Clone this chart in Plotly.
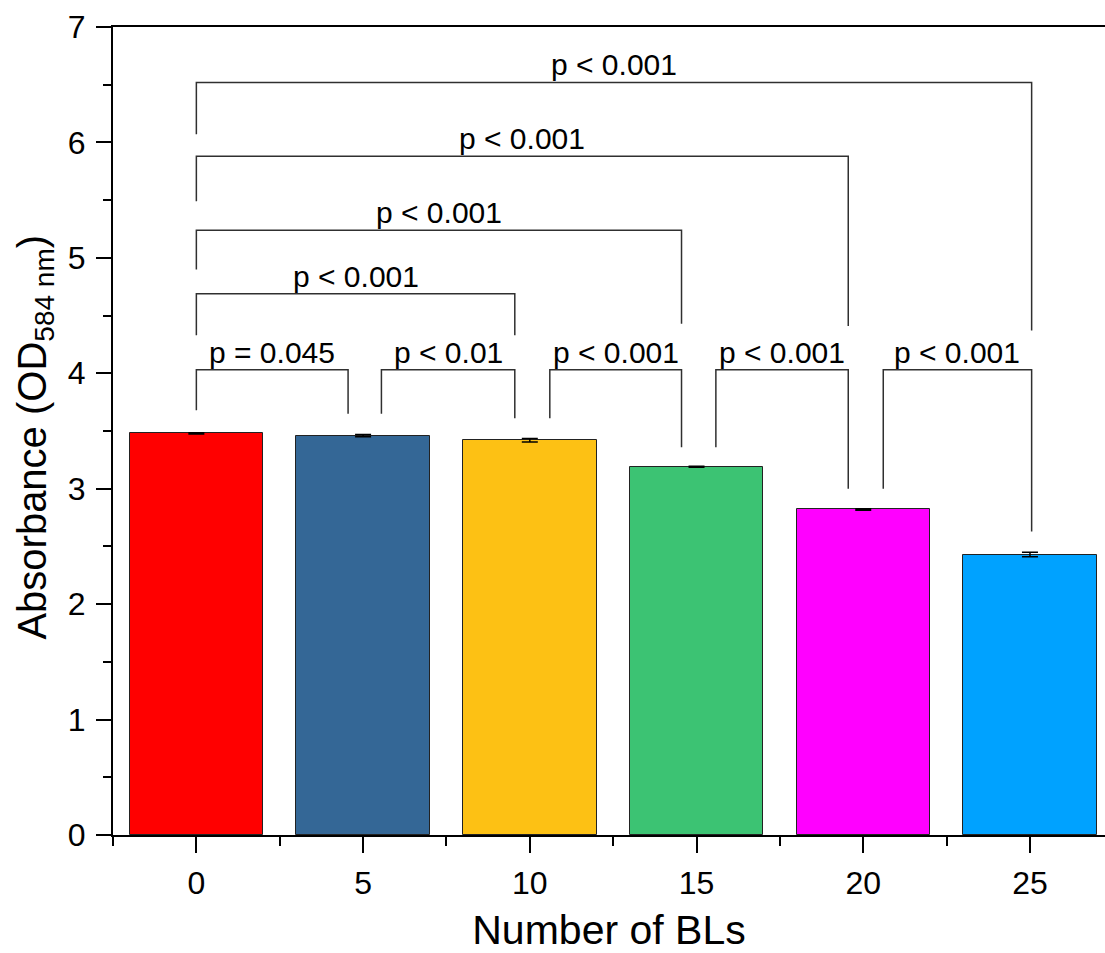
import plotly.graph_objects as go

# Absorbance per number of bilayers
bl_counts = [0, 5, 10, 15, 20, 25]
absorbance = [3.48, 3.46, 3.42, 3.19, 2.82, 2.43]
absorbance_sd = [0.005, 0.01, 0.015, 0.005, 0.007, 0.02]
bar_colors = ["#FF0000", "#346796", "#FDC114", "#3CC373", "#FF00FF", "#00A2FF"]

# Significance brackets: span, height of the bar line, leg ends, label
bracket_x0 = [0, 5.55, 10.6, 15.58, 20.6, 0, 0, 0, 0]
bracket_x1 = [4.55, 9.55, 14.55, 19.55, 25.05, 9.55, 14.55, 19.55, 25.05]
bracket_top = [4.03, 4.03, 4.03, 4.03, 4.03, 4.69, 5.24, 5.88, 6.52]
bracket_left_end = [3.68, 3.65, 3.61, 3.36, 3.0, 4.33, 4.9, 5.49, 6.07]
bracket_right_end = [3.65, 3.61, 3.36, 3.0, 2.63, 4.33, 4.43, 4.41, 4.37]
bracket_labels = ["p = 0.045", "p < 0.01", "p < 0.001", "p < 0.001", "p < 0.001",
                  "p < 0.001", "p < 0.001", "p < 0.001", "p < 0.001"]

FONT = "Liberation Sans, Arial, sans-serif"

fig = go.Figure()

fig.add_trace(go.Bar(
    x=bl_counts,
    y=absorbance,
    width=4,
    marker=dict(color=bar_colors, line=dict(color="#222222", width=1)),
    error_y=dict(type="data", array=absorbance_sd, visible=True,
                 color="black", thickness=1.5, width=8),
    showlegend=False,
    hoverinfo="x+y",
))

# bracket paths as one broken line
bx, by = [], []
for x0, x1, top, le, re in zip(bracket_x0, bracket_x1, bracket_top,
                               bracket_left_end, bracket_right_end):
    bx += [x0, x0, x1, x1, None]
    by += [le, top, top, re, None]

fig.add_trace(go.Scatter(
    x=bx, y=by, mode="lines",
    line=dict(color="#303030", width=1.5),
    showlegend=False, hoverinfo="skip",
))

for x0, x1, top, lab in zip(bracket_x0, bracket_x1, bracket_top, bracket_labels):
    fig.add_annotation(
        x=(x0 + x1) / 2, y=top, text=lab, showarrow=False,
        xanchor="center", yanchor="bottom", yshift=-1,
        font=dict(family=FONT, size=30, color="black"),
    )

# y-axis title placed as rotated text to the left of the axis
fig.add_annotation(
    xref="paper", yref="paper", x=-0.079, y=0.4926,
    xanchor="center", yanchor="middle", textangle=-90,
    text="Absorbance (OD<sub>584 nm</sub>)", showarrow=False,
    font=dict(family=FONT, size=40, color="black"),
)

fig.update_layout(
    width=1105, height=953,
    margin=dict(l=113, r=0, t=27, b=118),
    plot_bgcolor="white", paper_bgcolor="white",
    font=dict(family=FONT, size=30, color="black"),
    bargap=0,
)

fig.update_xaxes(
    range=[-2.5, 27.25],
    tickmode="linear", tick0=0, dtick=5,
    ticks="outside", ticklen=16, tickwidth=2, tickcolor="black",
    minor=dict(ticks="outside", tick0=0, dtick=2.5, ticklen=9,
               tickwidth=2, tickcolor="black"),
    showline=True, linewidth=2, linecolor="black", mirror=True,
    showgrid=False, zeroline=False,
    tickfont=dict(family=FONT, size=32, color="black"),
    ticklabelstandoff=3,
    title=dict(text="Number of BLs", font=dict(family=FONT, size=41, color="black"),
               standoff=20),
)

fig.update_yaxes(
    range=[0, 7],
    tickmode="linear", tick0=0, dtick=1,
    ticks="outside", ticklen=15, tickwidth=2, tickcolor="black",
    minor=dict(ticks="outside", tick0=0, dtick=0.5, ticklen=8,
               tickwidth=2, tickcolor="black"),
    showline=True, linewidth=2, linecolor="black",
    showgrid=False, zeroline=False,
    tickfont=dict(family=FONT, size=32, color="black"),
    ticklabelstandoff=4,
)

fig.write_html("out.html")
